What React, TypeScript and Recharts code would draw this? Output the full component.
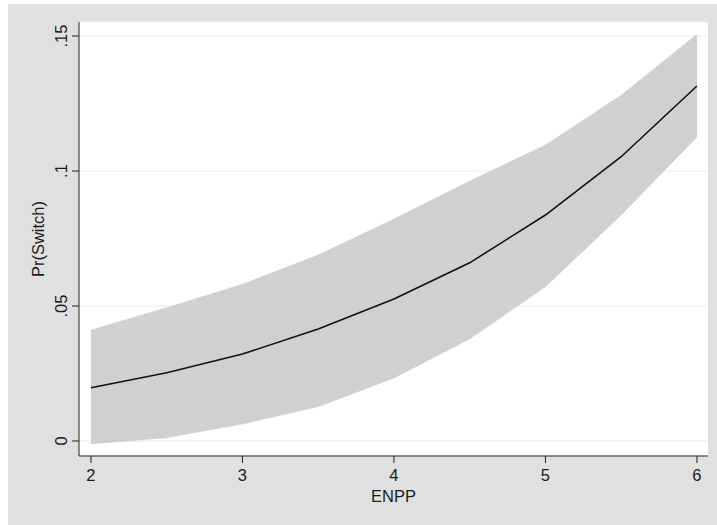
import {
  Area,
  CartesianGrid,
  ComposedChart,
  Line,
  XAxis,
  YAxis,
} from "recharts";

// ENPP values at which predictions were made
const enpp = [2, 2.5, 3, 3.5, 4, 4.5, 5, 5.5, 6];
// predicted Pr(Switch)
const prSwitch = [0.0197, 0.0253, 0.0322, 0.0415, 0.0526, 0.066, 0.0837, 0.1053, 0.1315];
// 95% CI bounds
const ciLower = [-0.0011, 0.0012, 0.0063, 0.0127, 0.0233, 0.0378, 0.0571, 0.0837, 0.1126];
const ciUpper = [0.0411, 0.0494, 0.0581, 0.0689, 0.0822, 0.0963, 0.1096, 0.1281, 0.1507];

const xTicks = [2, 3, 4, 5, 6];
const yTicks = [0, 0.05, 0.1, 0.15];
const yTickLabels = ["0", ".05", ".1", ".15"];

const data = enpp.map((x, i) => ({
  x,
  y: prSwitch[i],
  band: [ciLower[i], ciUpper[i]],
}));

const FONT = "'Liberation Sans', Arial, Helvetica, sans-serif";
const INK = "#1a1a1a";

function YTick(props: any) {
  const { x, y, payload } = props;
  const i = yTicks.indexOf(payload.value);
  const label = i >= 0 ? yTickLabels[i] : String(payload.value);
  return (
    <text
      x={x}
      y={y}
      transform={`rotate(-90 ${x} ${y})`}
      textAnchor="middle"
      dominantBaseline="central"
      fontSize={16.5}
      fontFamily={FONT}
      fill={INK}
    >
      {label}
    </text>
  );
}

function YLabel(props: any) {
  const vb = props.viewBox || { x: 0, y: 18, width: 71, height: 434 };
  const cx = 30;
  const cy = vb.y + vb.height / 2;
  return (
    <text
      x={cx}
      y={cy}
      transform={`rotate(-90 ${cx} ${cy})`}
      textAnchor="middle"
      dominantBaseline="central"
      fontSize={16.5}
      fontFamily={FONT}
      fill={INK}
    >
      Pr(Switch)
    </text>
  );
}

function XLabel(props: any) {
  const vb = props.viewBox || { x: 71, y: 452, width: 629, height: 69 };
  return (
    <text
      x={vb.x + vb.width / 2}
      y={498}
      textAnchor="middle"
      fontSize={16.5}
      fontFamily={FONT}
      fill={INK}
    >
      ENPP
    </text>
  );
}

export default function App() {
  return (
    <div
      style={{
        position: "absolute",
        left: 8,
        top: 4,
        width: 709,
        height: 521,
        background: "#e0e0e0",
      }}
    >
      <ComposedChart
        width={709}
        height={521}
        data={data}
        margin={{ top: 18, right: 9, bottom: 0, left: 0 }}
      >
        <CartesianGrid
          horizontal
          vertical={false}
          stroke="#e4edf0"
          fill="#ffffff"
          fillOpacity={1}
        />
        <XAxis
          dataKey="x"
          type="number"
          domain={[1.921, 6.073]}
          ticks={xTicks}
          allowDataOverflow
          height={69}
          tickSize={7}
          tickMargin={6}
          stroke="#222"
          tick={{ fontSize: 16.5, fontFamily: FONT, fill: INK }}
          label={<XLabel />}
        />
        <YAxis
          type="number"
          domain={[-0.00556, 0.1552]}
          ticks={yTicks}
          allowDataOverflow
          width={71}
          tickSize={7}
          tickMargin={11}
          stroke="#222"
          tick={<YTick />}
          label={<YLabel />}
        />
        <Area
          dataKey="band"
          type="linear"
          fill="#d0d0d0"
          fillOpacity={1}
          stroke="#cccccc"
          strokeWidth={0.5}
          isAnimationActive={false}
          dot={false}
          activeDot={false}
        />
        <Line
          dataKey="y"
          type="linear"
          stroke="#111"
          strokeWidth={1.6}
          dot={false}
          activeDot={false}
          isAnimationActive={false}
        />
      </ComposedChart>
    </div>
  );
}
